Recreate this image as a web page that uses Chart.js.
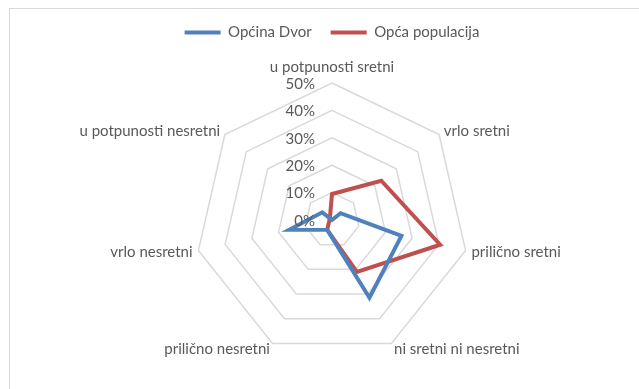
<!DOCTYPE html>
<html>
<head>
<meta charset="utf-8">
<title>Sreća: Općina Dvor i opća populacija</title>
<script src="https://cdn.jsdelivr.net/npm/chart.js@4.4.1/dist/chart.umd.min.js"></script>
<style>
  html, body { margin: 0; padding: 0; background: #fff; overflow: hidden; }
  #wrap { position: relative; width: 639px; height: 389px; }
  #frame { position: absolute; left: 9px; top: 8px; width: 700px; height: 500px; border: 1px solid #d9d9d9; box-sizing: border-box; }
  #happiness { position: absolute; left: 0; top: 0; }
</style>
</head>
<body>
<div id="wrap">
  <div id="frame"></div>
  <canvas id="happiness" width="639" height="389"></canvas>
</div>
<script>
const categories = [
    'u potpunosti sretni',
    'vrlo sretni',
    'prilično sretni',
    'ni sretni ni nesretni',
    'prilično nesretni',
    'vrlo nesretni',
    'u potpunosti nesretni'
];
const dvorValues = [0, 4, 26, 31.5, 4, 16, 4.5];
const populationValues = [9.5, 23, 40.5, 21, 4, 1, 1];
const tickMax = 50;
const tickStep = 10;

const textColor = '#595959';
const fontFamily = 'Lato, "Open Sans", sans-serif';
const fontSize = 15;

// extra room between the legend and the radar
const legendGap = {
    id: 'legendGap',
    beforeInit(chart) {
        const fit = chart.legend.fit;
        chart.legend.fit = function () {
            fit.call(this);
            this.height += 33;
        };
    }
};

// percentage ticks sit just left of the vertical axis
const sideTicks = {
    id: 'sideTicks',
    afterDatasetsDraw(chart) {
        const scale = chart.scales.r;
        const ctx = chart.ctx;
        ctx.save();
        ctx.font = fontSize + 'px ' + fontFamily;
        ctx.fillStyle = textColor;
        ctx.textAlign = 'right';
        ctx.textBaseline = 'middle';
        scale.ticks.forEach(t => {
            const y = scale.yCenter - scale.getDistanceFromCenterForValue(t.value);
            ctx.fillText(t.value + '%', scale.xCenter - 17, y + 1);
        });
        ctx.restore();
    }
};

// category names outside the outer ring
const outerLabels = {
    id: 'outerLabels',
    afterDraw(chart) {
        const scale = chart.scales.r;
        const ctx = chart.ctx;
        ctx.save();
        ctx.font = fontSize + 'px ' + fontFamily;
        ctx.fillStyle = textColor;
        ctx.textBaseline = 'middle';
        categories.forEach((name, i) => {
            const p = scale.getPointPosition(i, scale.drawingArea + 6);
            const dx = p.x - scale.xCenter;
            let y = p.y;
            if (Math.abs(dx) < 1) {
                ctx.textAlign = 'center';
                y -= 10;
            } else {
                ctx.textAlign = dx > 0 ? 'left' : 'right';
            }
            ctx.fillText(name, p.x, y);
        });
        ctx.restore();
    }
};

new Chart(document.getElementById('happiness'), {
    type: 'radar',
    data: {
        labels: categories,
        datasets: [{
            label: 'Općina Dvor',
            data: dvorValues,
            borderColor: '#4F81BD',
            backgroundColor: '#4F81BD',
            borderWidth: 4,
            pointRadius: 0,
            fill: false
        }, {
            label: 'Opća populacija',
            data: populationValues,
            borderColor: '#C0504D',
            backgroundColor: '#C0504D',
            borderWidth: 4,
            pointRadius: 0,
            fill: false
        }]
    },
    options: {
        responsive: false,
        animation: false,
        devicePixelRatio: 1,
        layout: { padding: { top: 6, left: 25, right: 0, bottom: 32 } },
        elements: { line: { tension: 0, borderJoinStyle: 'miter' } },
        plugins: {
            legend: {
                position: 'top',
                labels: {
                    usePointStyle: true,
                    pointStyleWidth: 36,
                    pointStyle: 'line',
                    padding: 19,
                    color: textColor,
                    font: { family: fontFamily, size: fontSize }
                }
            },
            tooltip: { enabled: false }
        },
        scales: {
            r: {
                min: 0,
                max: tickMax,
                ticks: { stepSize: tickStep, display: false },
                angleLines: { display: false },
                grid: { color: '#d9d9d9', lineWidth: 1.5 },
                pointLabels: { display: false }
            }
        }
    },
    plugins: [legendGap, sideTicks, outerLabels]
});
</script>
</body>
</html>
